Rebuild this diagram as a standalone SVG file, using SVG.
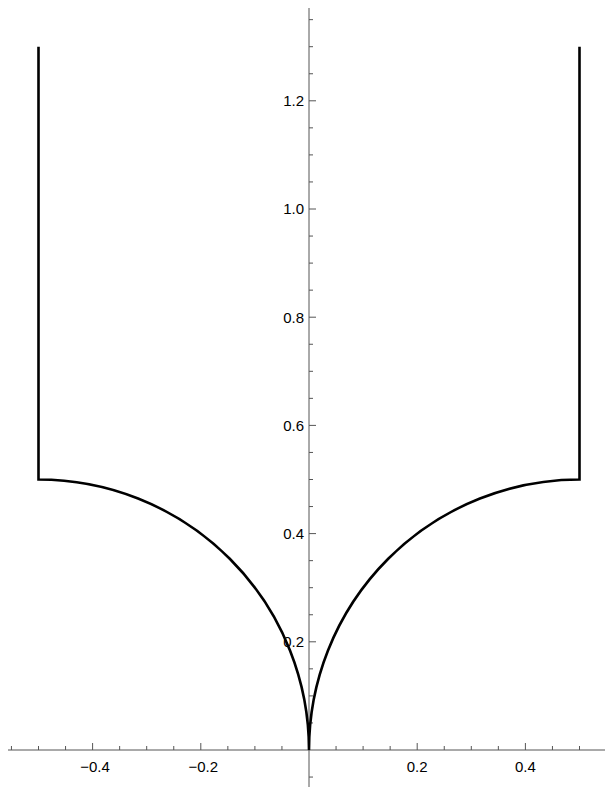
<svg xmlns="http://www.w3.org/2000/svg" width="605" height="787" viewBox="0 0 605 787">
<style>
.ax{stroke:#555;stroke-width:1;fill:none}
.tk{stroke:#555;stroke-width:1}
.lbl{font-family:"Liberation Sans",Arial,sans-serif;font-size:15px;fill:#000}
.curve{stroke:#000;stroke-width:2.6;fill:none;stroke-linejoin:miter}
</style>
<rect width="605" height="787" fill="#fff"/>
<g id="axes">
<line class="ax" x1="8" y1="750" x2="605" y2="750"/>
<line class="ax" x1="309" y1="8" x2="309" y2="787"/>
<g id="xticks">
<path class="tk" d="M11.45,750v-4M38.5,750v-4M65.55,750v-4M92.6,750v-7M119.65,750v-4M146.7,750v-4M173.75,750v-4M200.8,750v-7M227.85,750v-4M254.9,750v-4M281.95,750v-4M336.05,750v-4M363.1,750v-4M390.15,750v-4M417.2,750v-7M444.25,750v-4M471.3,750v-4M498.35,750v-4M525.4,750v-7M552.45,750v-4M579.5,750v-4"/>
</g>
<g id="yticks">
<path class="tk" d="M309,777.05h4M309,722.95h4M309,695.9h4M309,668.85h4M309,641.8h7M309,614.75h4M309,587.7h4M309,560.65h4M309,533.6h7M309,506.55h4M309,479.5h4M309,452.45h4M309,425.4h7M309,398.35h4M309,371.3h4M309,344.25h4M309,317.2h7M309,290.15h4M309,263.1h4M309,236.05h4M309,209h7M309,181.95h4M309,154.9h4M309,127.85h4M309,100.8h7M309,73.75h4M309,46.7h4M309,19.65h4"/>
</g>
<g id="xlabels" class="lbl" text-anchor="middle">
<text x="95" y="772">−0.4</text>
<text x="203.2" y="772">−0.2</text>
<text x="417.2" y="772">0.2</text>
<text x="525.4" y="772">0.4</text>
</g>
<g id="ylabels" class="lbl" text-anchor="end">
<text x="304" y="647.2">0.2</text>
<text x="304" y="539">0.4</text>
<text x="304" y="430.8">0.6</text>
<text x="304" y="322.6">0.8</text>
<text x="304" y="214.4">1.0</text>
<text x="304" y="106.2">1.2</text>
</g>
</g>
<g id="curve">
<path class="curve" d="M38.5,46.7V479.5A270.5,270.5 0 0 1 309,750A270.5,270.5 0 0 1 579.5,479.5V46.7"/>
</g>
</svg>
